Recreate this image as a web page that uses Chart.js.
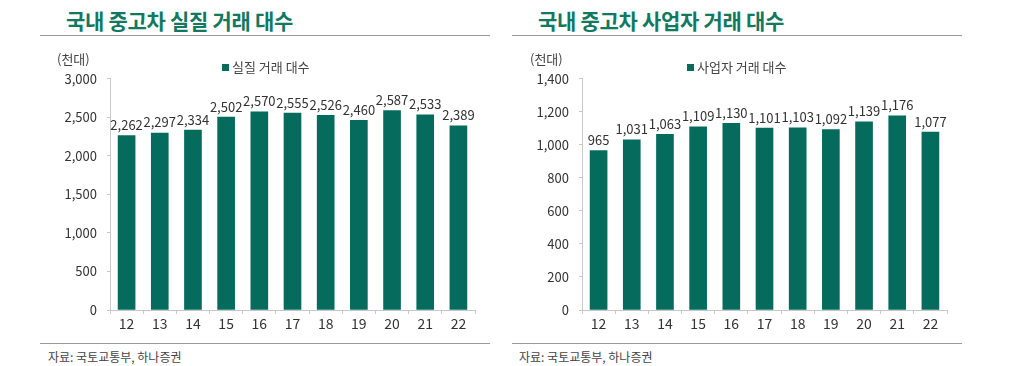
<!DOCTYPE html>
<html><head><meta charset="utf-8">
<script src="https://cdn.jsdelivr.net/npm/chart.js@4"></script>
<style>
html,body{margin:0;padding:0;background:#fff;width:1024px;height:366px;overflow:hidden;font-family:"Noto Sans CJK KR","Noto Sans",sans-serif;}
.abs{position:absolute;}
.title{font-size:21px;font-weight:bold;color:#12795f;white-space:nowrap;letter-spacing:-0.3px;}
.hline{height:0;border-top:1.5px solid #9a9a9a;}
.unit{font-size:13px;color:#444;}
.legend{font-size:13px;color:#444;white-space:nowrap;}
.legend i{display:inline-block;width:7px;height:7px;background:#056b5d;margin-right:3px;vertical-align:1px;}
.src{font-size:12px;color:#444;white-space:nowrap;}
</style></head>
<body>
<div class="abs" style="left:40px;top:61px;width:450px;height:282px;"><canvas id="c1"></canvas></div>
<div class="abs" style="left:512px;top:61px;width:450px;height:282px;"><canvas id="c2"></canvas></div>

<div class="abs title" style="left:66px;top:5px;">국내 중고차 실질 거래 대수</div>
<div class="abs hline" style="left:40px;top:35px;width:450px;"></div>
<div class="abs unit" style="left:57px;top:49px;">(천대)</div>
<div class="abs legend" style="left:222px;top:57px;"><i></i>실질 거래 대수</div>
<div class="abs hline" style="left:40px;top:343px;width:450px;"></div>
<div class="abs src" style="left:48px;top:348px;">자료: 국토교통부, 하나증권</div>

<div class="abs title" style="left:538px;top:5px;">국내 중고차 사업자 거래 대수</div>
<div class="abs hline" style="left:512px;top:35px;width:450px;"></div>
<div class="abs unit" style="left:530px;top:49px;">(천대)</div>
<div class="abs legend" style="left:687px;top:57px;"><i></i>사업자 거래 대수</div>
<div class="abs hline" style="left:512px;top:343px;width:450px;"></div>
<div class="abs src" style="left:519px;top:348px;">자료: 국토교통부, 하나증권</div>

<script>
const categories = ["12","13","14","15","16","17","18","19","20","21","22"];
const realTrades = [2262,2297,2334,2502,2570,2555,2526,2460,2587,2533,2389];
const dealerTrades = [965,1031,1063,1109,1130,1101,1103,1092,1139,1176,1077];
const realTicks = [0,500,1000,1500,2000,2500,3000];
const dealerTicks = [0,200,400,600,800,1000,1200,1400];

const BAR = '#056b5d';
const fmt = v => v.toLocaleString('en-US');
const FONT = '"Noto Sans CJK KR","Noto Sans",sans-serif';

const valueLabels = {
  id:'valueLabels',
  afterDatasetsDraw(chart){
    const ctx = chart.ctx;
    ctx.save();
    ctx.font = '13px ' + FONT;
    ctx.fillStyle = '#333';
    ctx.textAlign = 'center';
    ctx.textBaseline = 'bottom';
    const meta = chart.getDatasetMeta(0);
    meta.data.forEach((el,i)=>{
      ctx.fillText(fmt(chart.data.datasets[0].data[i]), el.x, el.y - 4);
    });
    ctx.restore();
  }
};

function makeChart(id, label, data, ticks){
  const max = ticks[ticks.length-1], step = ticks[1]-ticks[0];
  return new Chart(document.getElementById(id), {
    type:'bar',
    data:{labels:categories, datasets:[{label, data, backgroundColor:BAR, barThickness:17}]},
    options:{
      responsive:true, maintainAspectRatio:false, animation:false,
      layout:{padding:{top:0,right:15,left:0,bottom:0}},
      plugins:{legend:{display:false}, tooltip:{enabled:false}},
      scales:{
        x:{
          offset:true,
          grid:{display:true, offset:true, drawOnChartArea:false, drawTicks:true, tickLength:4, color:'#c8c8c8'},
          border:{display:true, color:'#c8c8c8'},
          ticks:{font:{family:FONT,size:14}, color:'#333', padding:1, maxRotation:0},
          afterFit(s){ s.height = 33; }
        },
        y:{
          min:0, max:max,
          grid:{display:true, drawOnChartArea:false, drawTicks:true, tickLength:3, color:'#c8c8c8'},
          border:{display:true, color:'#c8c8c8'},
          ticks:{stepSize:step, font:{family:FONT,size:13}, color:'#333', padding:10,
                 callback:v=>fmt(v)},
          afterFit(s){ s.width = 70; }
        }
      }
    },
    plugins:[valueLabels]
  });
}
makeChart('c1','실질 거래 대수', realTrades, realTicks);
makeChart('c2','사업자 거래 대수', dealerTrades, dealerTicks);
</script>
</body></html>
